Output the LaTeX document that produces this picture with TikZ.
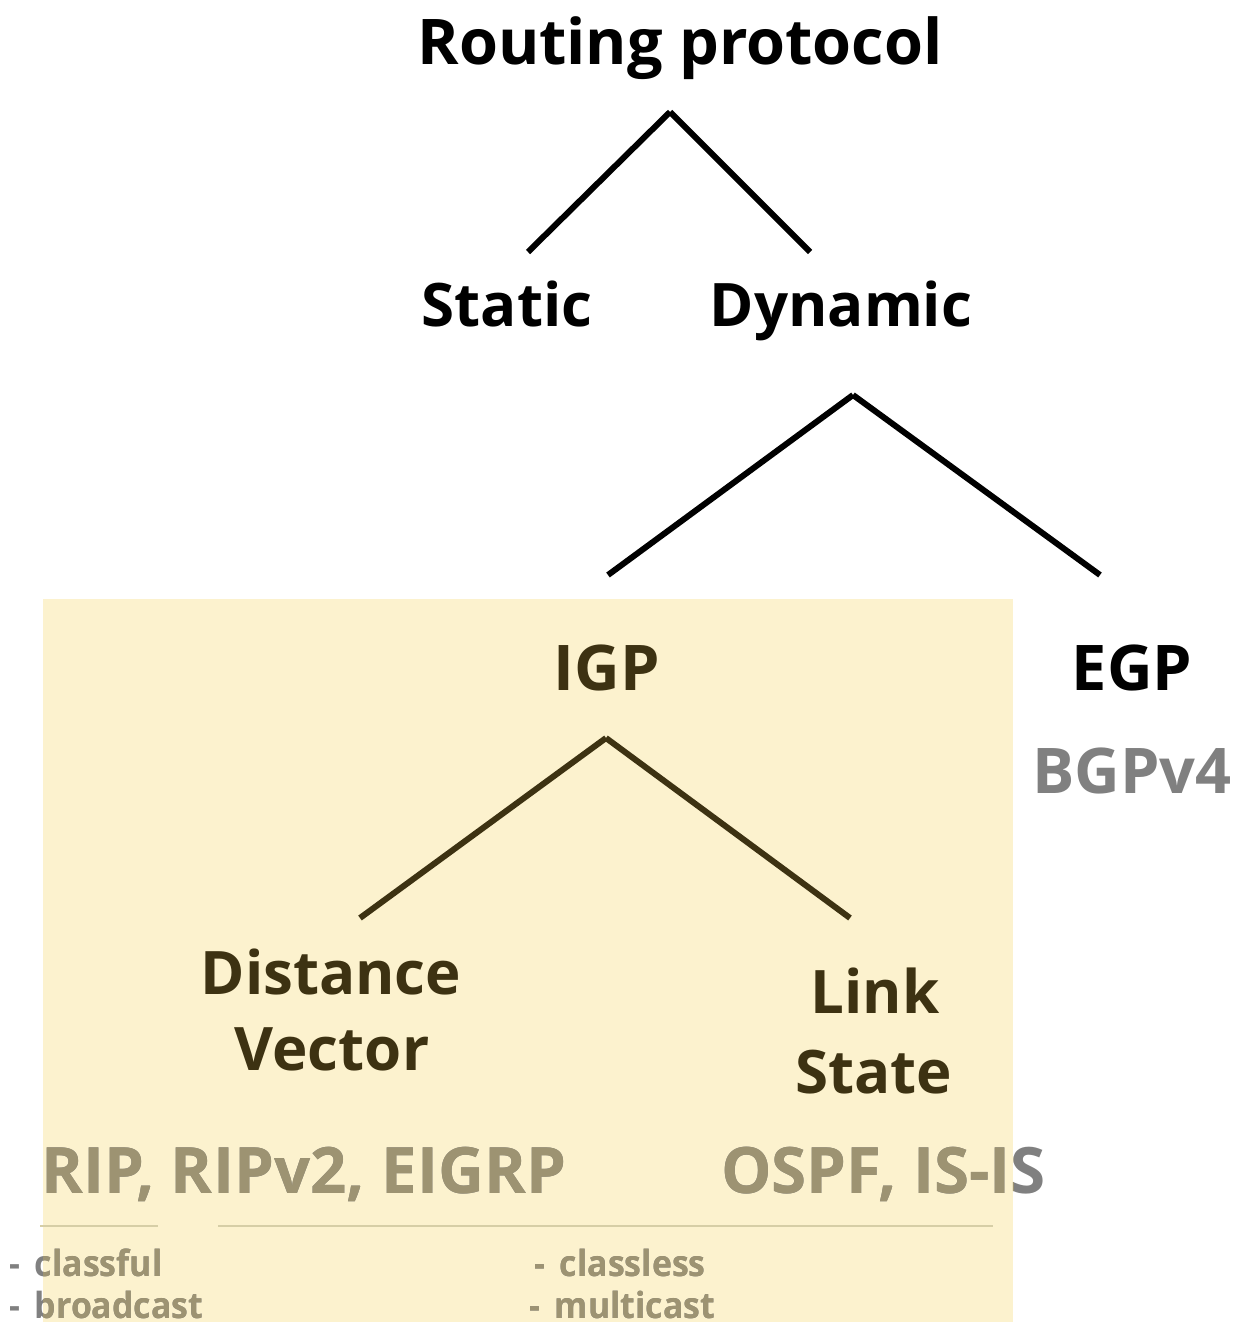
\documentclass[tikz,border=0pt]{standalone}
\usepackage{fontspec}
\setmainfont{Open Sans}
\newfontfamily\condfont[FakeStretch=0.995]{Open Sans}
\newfontfamily\smallfont[FakeStretch=0.94]{Open Sans}
\definecolor{boxfill}{RGB}{252,242,206}
\definecolor{inkdark}{RGB}{61,50,18}
\definecolor{subgrey}{RGB}{128,128,128}
\definecolor{subkhaki}{RGB}{157,147,114}
\definecolor{sepline}{RGB}{214,206,166}
\begin{document}
\begin{tikzpicture}[x=1pt,y=-1pt,
  big/.style={inner sep=0pt,anchor=base,font=\fontsize{63}{70}\selectfont\bfseries},
  word/.style={inner sep=0pt,anchor=base,font=\fontsize{60}{66}\selectfont\bfseries},
  proto/.style={inner sep=0pt,anchor=base west,font=\condfont\fontsize{64}{70}\selectfont\bfseries},
  small/.style={inner sep=0pt,anchor=base west,font=\smallfont\fontsize{36}{40}\selectfont\bfseries},
  branch/.style={line width=6pt,line cap=butt}]
\useasboundingbox (0,0) rectangle (1256,1338);
\fill[white] (0,0) rectangle (1256,1338);

% highlight box
\fill[boxfill] (43,599) rectangle (1013,1322);

% texts outside the box
\node[big] (rp) at (680,65) {Routing protocol};
\node[word] (static) at (507,326) {Static};
\node[word] (dynamic) at (841,326) {Dynamic};
\node[big] (egp) at (1132,690) {EGP};
\node[big,text=subgrey] (bgp) at (1132,793) {BGPv4};

% texts inside the box
\node[big,text=inkdark] (igp) at (607,690) {IGP};
\node[word,text=inkdark] (dist) at (331,994) {Distance};
\node[word,text=inkdark] (vec) at (332,1070) {Vector};
\node[word,text=inkdark] (link) at (875,1013) {Link};
\node[word,text=inkdark] (state) at (874,1093) {State};

% grey texts straddling the box edge: grey outside, khaki inside
\node[proto,text=subgrey] (dvp) at (41,1193) {RIP, RIPv2, EIGRP};
\node[proto,text=subgrey] (lsp) at (721,1193) {OSPF, IS-IS};
\node[small,text=subgrey] (s1) at (9,1276) {-\, classful};
\node[small,text=subgrey] (s2) at (9,1318) {-\, broadcast};
\node[small,text=subgrey] (s3) at (534,1276) {-\, classless};
\node[small,text=subgrey] (s4) at (529,1318) {-\, multicast};
\begin{scope}
  \clip (43,599) rectangle (1013,1322);
  \node[proto,text=subkhaki] (dvp-in) at (41,1193) {RIP, RIPv2, EIGRP};
  \node[proto,text=subkhaki] (lsp-in) at (721,1193) {OSPF, IS-IS};
  \node[small,text=subkhaki] (s1-in) at (9,1276) {-\, classful};
  \node[small,text=subkhaki] (s2-in) at (9,1318) {-\, broadcast};
  \node[small,text=subkhaki] (s3-in) at (534,1276) {-\, classless};
  \node[small,text=subkhaki] (s4-in) at (529,1318) {-\, multicast};
\end{scope}

% connector coordinates
\coordinate (rp-apex) at (670,112);
\coordinate (static-top) at (528,252);
\coordinate (dynamic-top) at (810,252);
\coordinate (dyn-apex) at (853,395);
\coordinate (igp-top) at (608,575);
\coordinate (egp-top) at (1100,575);
\coordinate (igp-apex) at (606,738);
\coordinate (dv-top) at (360,918);
\coordinate (ls-top) at (850,918);

\draw[branch] (rp-apex) -- (static-top);
\draw[branch] (rp-apex) -- (dynamic-top);
\draw[branch] (dyn-apex) -- (igp-top);
\draw[branch] (dyn-apex) -- (egp-top);
\draw[branch,inkdark] (igp-apex) -- (dv-top);
\draw[branch,inkdark] (igp-apex) -- (ls-top);

% separators
\coordinate (sep1a) at (40,1226);
\coordinate (sep1b) at (158,1226);
\coordinate (sep2a) at (218,1226);
\coordinate (sep2b) at (993,1226);
\draw[sepline,line width=2pt] (sep1a) -- (sep1b);
\draw[sepline,line width=2pt] (sep2a) -- (sep2b);
\end{tikzpicture}
\end{document}
